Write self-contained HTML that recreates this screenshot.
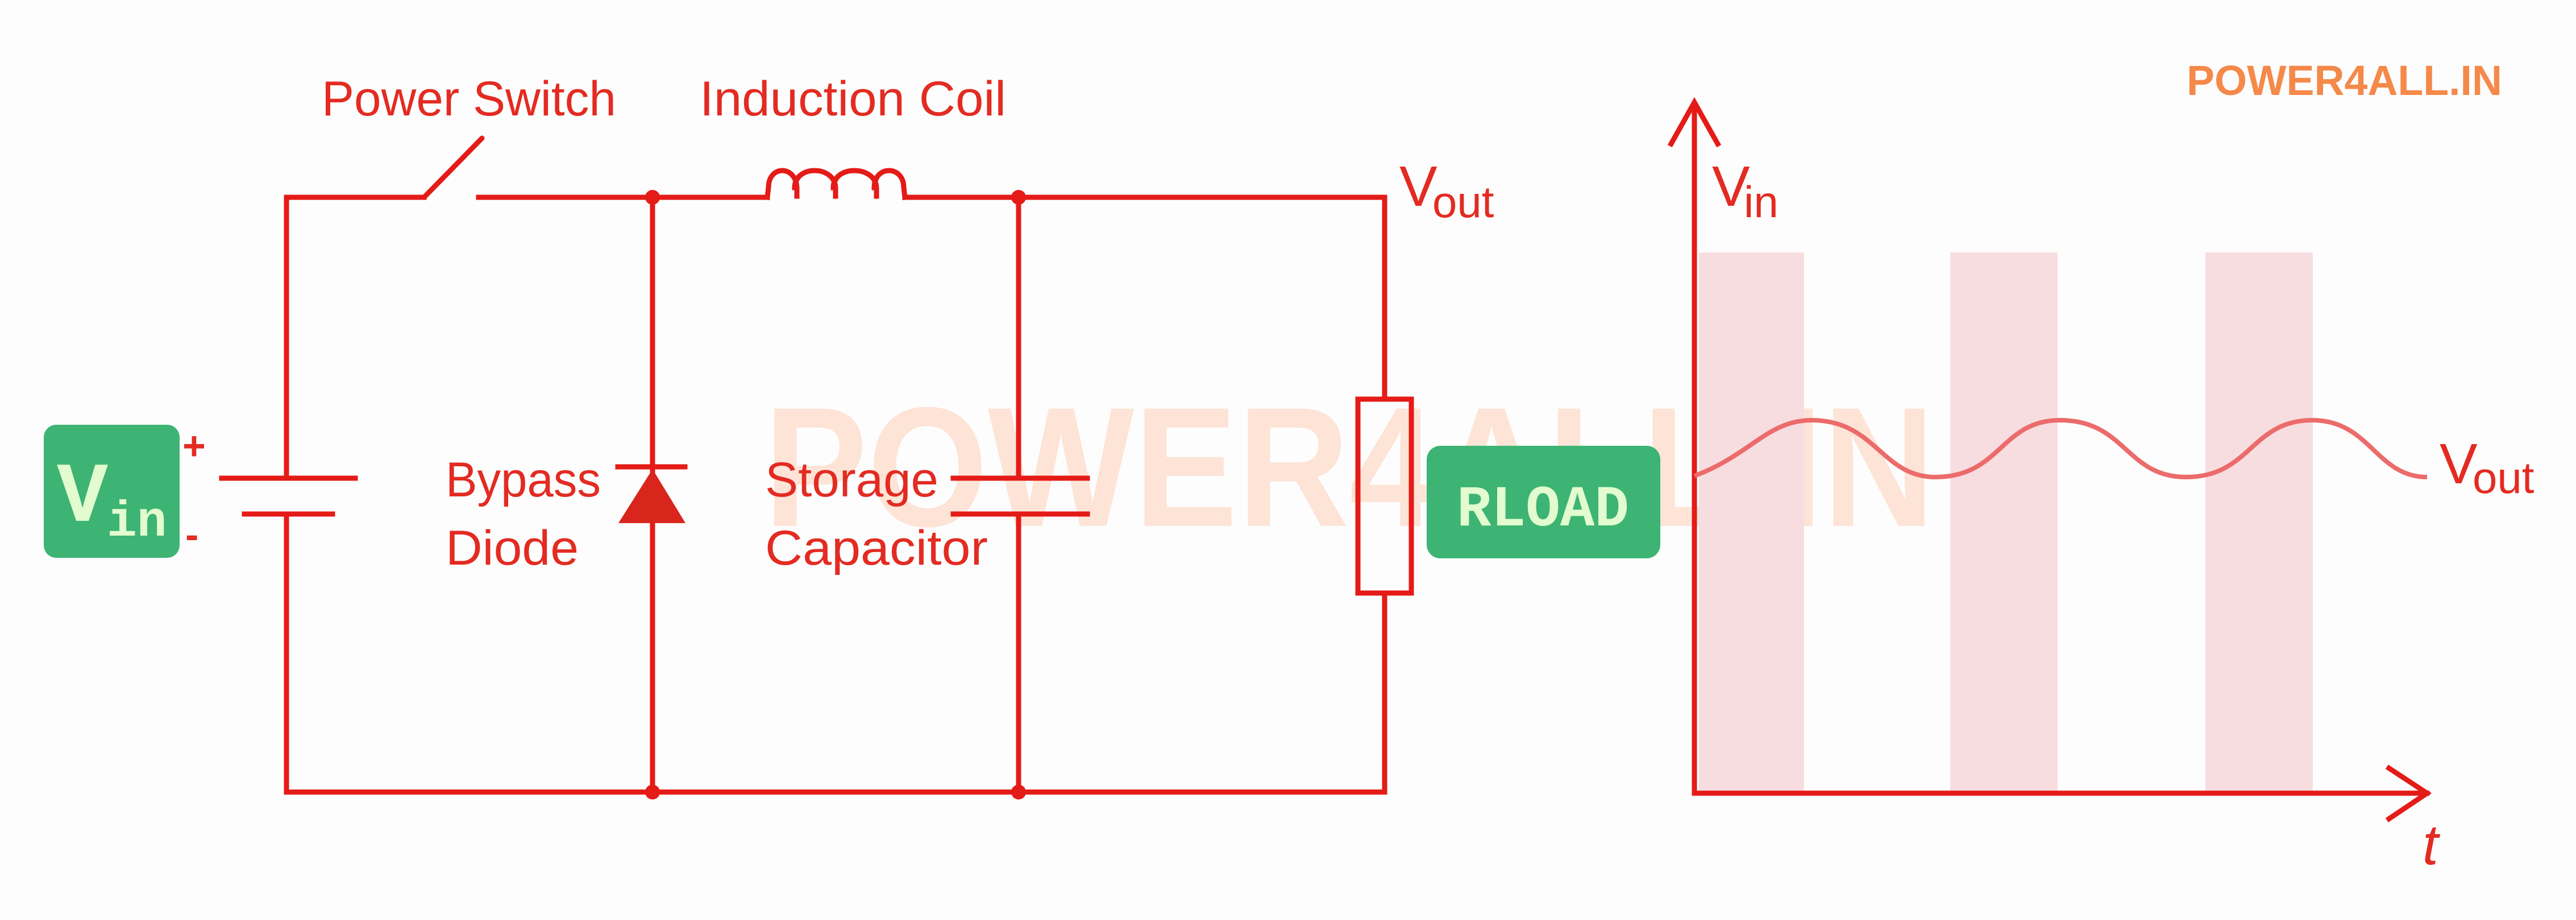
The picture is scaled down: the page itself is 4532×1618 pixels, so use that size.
<!DOCTYPE html>
<html><head><meta charset="utf-8"><style>
html,body{margin:0;padding:0;background:#fdfdfd;}
svg{display:block}
</style></head><body>
<svg width="4532" height="1618" viewBox="0 0 4532 1618" xmlns="http://www.w3.org/2000/svg">
<rect width="4532" height="1618" fill="#fdfdfd"/>
<!-- watermark -->
<text x="1344" y="925" font-family="Liberation Sans, sans-serif" font-weight="bold" font-size="300" fill="#fde4d7" textLength="2060" lengthAdjust="spacingAndGlyphs">POWER4ALL.IN</text>
<!-- chart bars -->
<g fill="#f8dde0">
<rect x="2989" y="444" width="185" height="948"/>
<rect x="3431" y="444" width="189" height="948"/>
<rect x="3880" y="444" width="189" height="948"/>
</g>
<g stroke="#e41b17" stroke-width="9" fill="none" stroke-linecap="square">
<polyline points="746,347 504,347 504,841"/>
<line x1="748" y1="345" x2="848" y2="243" stroke-linecap="round"/>
<polyline points="842,347 1350,347"/>
<path d="M1350,347 L1352,330 C1352,290 1400,290 1402,330 L1402,345 M1398,330 C1398,290 1468,290 1470,330 L1470,345 M1466,330 C1466,290 1540,290 1542,330 L1542,345 M1538,330 C1538,290 1590,290 1590,330 L1592,347"/>
<polyline points="1592,347 2436,347 2436,698"/>
<line x1="504" y1="904" x2="504" y2="1393"/>
<polyline points="504,1393 2436,1393 2436,1047"/>
<line x1="390" y1="841" x2="625" y2="841"/>
<line x1="430" y1="904" x2="585" y2="904"/>
<line x1="1148" y1="347" x2="1148" y2="1393"/>
<line x1="1087" y1="821" x2="1205" y2="821"/>
<line x1="1792" y1="347" x2="1792" y2="841"/>
<line x1="1792" y1="904" x2="1792" y2="1393"/>
<line x1="1677" y1="841" x2="1913" y2="841"/>
<line x1="1677" y1="904" x2="1913" y2="904"/>
<rect x="2389" y="702" width="94" height="341"/>
<line x1="2981" y1="185" x2="2981" y2="1395"/>
<polyline points="2940,253 2981,180 3022,253" stroke-linejoin="miter"/>
<line x1="2981" y1="1395" x2="4270" y2="1395"/>
<polyline points="4203,1351 4270,1395 4203,1440"/>
</g>
<polygon points="1148,825 1088,920 1206,920" fill="#d9261c"/>
<g fill="#e41b17">
<circle cx="1148" cy="347" r="13"/><circle cx="1792" cy="347" r="13"/>
<circle cx="1148" cy="1393" r="13"/><circle cx="1792" cy="1393" r="13"/>
</g>
<path d="M2981,837 C3080,800 3110,739 3187,739 C3300,739 3310,839 3405,839 C3520,839 3520,739 3624,739 C3740,739 3740,839 3846,839 C3960,839 3960,739 4068,739 C4170,739 4180,839 4270,839" stroke="#ec6b6b" stroke-width="8" fill="none"/>
<g font-family="Liberation Sans, sans-serif" fill="#e32b22">
<text x="566" y="203" font-size="86" textLength="518" lengthAdjust="spacingAndGlyphs">Power Switch</text>
<text x="1231" y="203" font-size="86" textLength="539" lengthAdjust="spacingAndGlyphs">Induction Coil</text>
<text x="784" y="873" font-size="86" textLength="273" lengthAdjust="spacingAndGlyphs">Bypass</text>
<text x="784" y="993" font-size="86" textLength="234" lengthAdjust="spacingAndGlyphs">Diode</text>
<text x="1346" y="873" font-size="86" textLength="305" lengthAdjust="spacingAndGlyphs">Storage</text>
<text x="1346" y="993" font-size="86" textLength="392" lengthAdjust="spacingAndGlyphs">Capacitor</text>
<text x="2462" y="362" font-size="100">V</text>
<text x="2520" y="382" font-size="78">out</text>
<text x="3012" y="362" font-size="100">V</text>
<text x="3068" y="382" font-size="78">in</text>
<text x="4292" y="850" font-size="100">V</text>
<text x="4350" y="867" font-size="78">out</text>
<text x="4262" y="1520" font-size="100" font-style="italic">t</text>
<text x="321" y="808" font-size="70" font-weight="bold">+</text>
<text x="326" y="964" font-size="70" font-weight="bold">-</text>
</g>
<text x="3847" y="167" font-family="Liberation Sans, sans-serif" font-weight="bold" font-size="74" fill="#f5894a" textLength="555" lengthAdjust="spacingAndGlyphs">POWER4ALL.IN</text>
<rect x="77" y="747" width="239" height="234" rx="22" fill="#3db473"/>
<text x="100" y="916" font-family="Liberation Mono, monospace" font-weight="bold" font-size="150" fill="#e2fbcf">V</text>
<text x="188" y="942" font-family="Liberation Mono, monospace" font-weight="bold" font-size="88" fill="#e2fbcf">in</text>
<rect x="2510" y="784" width="411" height="198" rx="24" fill="#3db473"/>
<text x="2563" y="924" font-family="Liberation Mono, monospace" font-weight="bold" font-size="102" fill="#e2fbcf" textLength="303" lengthAdjust="spacingAndGlyphs">RLOAD</text>
</svg>
</body></html>
